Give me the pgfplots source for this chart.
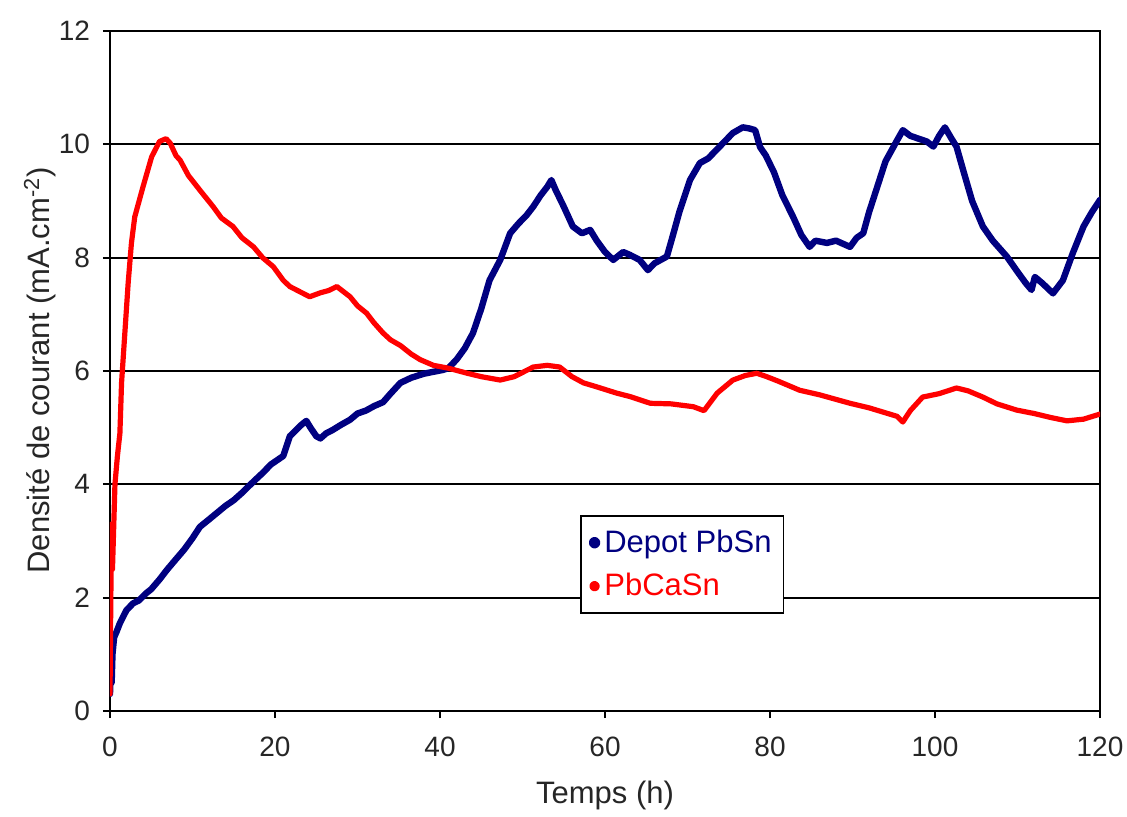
\documentclass[border=0pt]{standalone}
\usepackage{fontspec}
\setmainfont{Liberation Sans}
\usepackage{pgfplots}
\pgfplotsset{compat=1.18}
\definecolor{dblue}{RGB}{0,0,128}
\definecolor{dred}{RGB}{255,0,0}

\pgfplotstableread{
x y
0 0.3
0.1 0.8
0.2 0.5
0.3 1.0
0.5 1.3
0.8 1.4
1.2 1.55
2 1.78
2.8 1.9
3.5 1.95
4.4 2.08
5 2.15
6 2.32
6.9 2.49
8 2.68
9 2.85
10 3.05
10.9 3.25
12 3.38
13 3.5
14 3.62
15 3.72
16 3.85
17.4 4.05
18.5 4.2
19.5 4.35
21 4.5
21.8 4.85
22.5 4.95
23.2 5.05
23.8 5.12
24.3 5.0
25 4.85
25.5 4.81
26.2 4.9
27 4.96
28 5.05
29.1 5.14
30 5.25
31 5.3
32 5.38
33.1 5.45
34 5.6
35.2 5.79
36.5 5.88
38 5.95
39 5.98
40.4 6.02
41 6.05
42 6.2
43 6.4
44 6.67
45 7.1
46 7.6
47.3 7.96
48.5 8.43
49.5 8.6
50.5 8.75
51.3 8.9
52.2 9.1
53 9.25
53.5 9.37
54 9.2
55 8.9
56.1 8.55
57.2 8.43
58.2 8.49
59 8.3
60 8.1
61 7.96
62.2 8.1
63 8.05
64.2 7.96
65.2 7.78
66 7.9
67.5 8.02
68.3 8.43
69 8.8
70.3 9.37
71.5 9.67
72.5 9.75
73.9 9.96
75.5 10.2
76.7 10.3
77.5 10.28
78.2 10.25
78.8 9.95
79.5 9.8
80.5 9.5
81.5 9.1
82.8 8.72
83.8 8.4
84.8 8.19
85.5 8.3
86.9 8.26
88 8.3
89.7 8.19
90.5 8.35
91.3 8.43
92 8.8
93 9.25
94 9.7
95.4 10.07
96.1 10.25
97 10.15
98 10.1
99 10.05
99.8 9.96
100.5 10.15
101.2 10.3
102 10.1
102.6 9.96
103.5 9.5
104.5 9.0
105.8 8.55
107 8.3
108.7 8.02
110 7.75
111 7.55
111.7 7.43
112.1 7.66
113 7.55
114.3 7.37
115.5 7.6
116.7 8.08
118 8.55
119 8.8
120 9.02
}\depot

\pgfplotstableread{
x y
0 0.3
0.1 2.0
0.2 3.3
0.3 2.5
0.4 3.0
0.6 4.0
0.9 4.5
1.2 4.9
1.4 5.79
1.8 6.67
2.2 7.55
2.6 8.26
3 8.72
4 9.25
5.05 9.78
6 10.05
6.8 10.1
7.3 10.02
8 9.8
8.5 9.72
9.5 9.45
10.9 9.19
12.5 8.9
13.5 8.7
14.9 8.55
16 8.35
17.4 8.19
18.5 8.0
19.8 7.84
21 7.6
21.8 7.49
23 7.4
24.2 7.31
25.5 7.38
26.5 7.42
27.5 7.49
28.3 7.4
29.1 7.31
30 7.15
31.1 7.02
32 6.85
33.1 6.67
34 6.55
35.2 6.45
36.5 6.3
37.6 6.2
39.2 6.1
41 6.05
43.3 5.96
45 5.9
47.3 5.84
49 5.9
51.3 6.07
53 6.1
54.5 6.07
56 5.9
57.4 5.79
59 5.72
61.4 5.61
63 5.55
65.5 5.43
68 5.42
70.7 5.37
72 5.3
73.6 5.61
75.5 5.84
77 5.92
78.4 5.96
79.6 5.9
81 5.82
83.6 5.66
86 5.58
89.7 5.43
92 5.35
95.4 5.2
96.1 5.1
97 5.3
98.5 5.54
100.5 5.6
102.6 5.7
104 5.65
105.8 5.54
107.5 5.42
109.9 5.31
112 5.25
114 5.18
116 5.12
118 5.15
120 5.24
}\pbcasn

\begin{document}
\begin{tikzpicture}
\begin{axis}[
  scale only axis, width=495pt, height=340pt,
  xmin=0, xmax=120, ymin=0, ymax=12,
  xtick={0,20,...,120}, ytick={0,2,...,12},
  ymajorgrids, grid style={black, line width=0.9pt},
  axis line style={black, line width=0.9pt},
  tick style={black, line width=0.9pt},
  tick align=outside, major tick length=3.5pt,
  xtick pos=left, ytick pos=left,
  /pgf/number format/assume math mode=true,
  tick label style={font=\fontsize{14}{16}\selectfont, text=black!85},
  xticklabel style={yshift=-6pt},
  yticklabel style={xshift=-3pt},
  xlabel={Temps (h)},
  ylabel={Densité de courant (mA.cm\textsuperscript{-2})},
  label style={font=\fontsize{15.5}{18}\selectfont, text=black!85},
  xlabel style={at={(axis description cs:0.5,-0.1235)}, anchor=center},
  ylabel style={at={(axis description cs:-0.0707,0.501)}, anchor=center},
  legend style={at={(axis description cs:0.4747,0.288)}, anchor=north west,
    draw=black, line width=0.8pt, fill=white,
    font=\fontsize{15.5}{18}\selectfont, row sep=5pt,
    inner xsep=4pt, inner ysep=5pt, legend cell align=left},
]
\addplot[dblue, line width=3.2pt, line join=round, line cap=round,
  legend image code/.code={\fill[dblue] (0.1cm,0) circle (1.3pt);}]
  table[x=x,y=y]{\depot};
\addlegendentry{\textcolor{dblue}{Depot PbSn}}
\addplot[dred, line width=2.6pt, line join=round, line cap=round,
  legend image code/.code={\fill[dred] (0.1cm,0) circle (1.3pt);}]
  table[x=x,y=y]{\pbcasn};
\addlegendentry{\textcolor{dred}{PbCaSn}}
\end{axis}
\pgfresetboundingbox
\path (-55pt,-53pt) rectangle (508.5pt,355.5pt);
\end{tikzpicture}
\end{document}
